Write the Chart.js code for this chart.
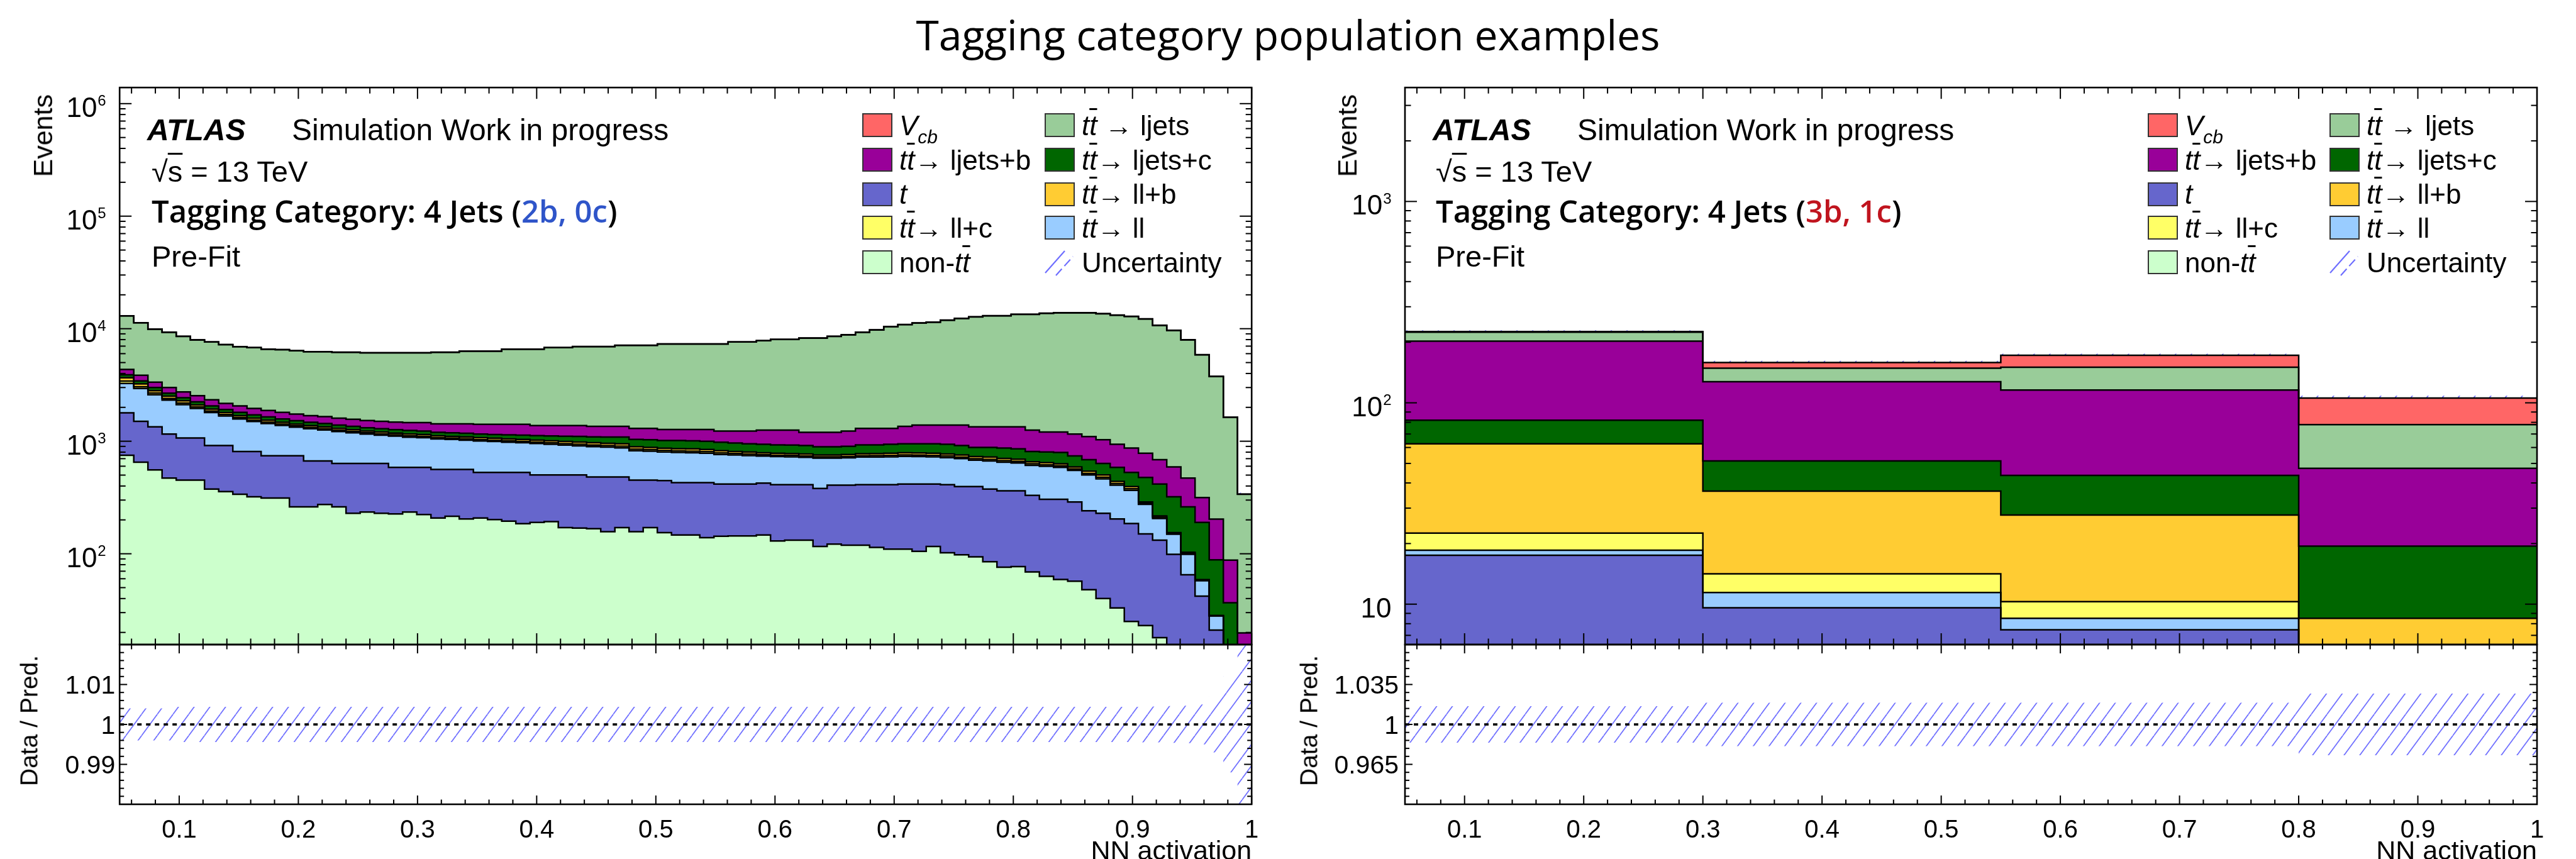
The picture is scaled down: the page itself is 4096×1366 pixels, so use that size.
<!DOCTYPE html>
<html>
<head>
<meta charset="utf-8">
<title>Tagging category population examples</title>
<script src="https://cdn.jsdelivr.net/npm/chart.js@4.4.1/dist/chart.umd.min.js"></script>
<style>
html,body{margin:0;padding:0;background:#fff;}
#page{position:relative;width:4096px;height:1366px;overflow:hidden;background:#fff;
  font-family:"Liberation Sans",Arial,Helvetica,sans-serif;color:#000;}
canvas{position:absolute;}
.txt{position:absolute;white-space:nowrap;line-height:1;}
.ov{text-decoration:overline;text-decoration-thickness:3px;}
.os{font-family:"Open Sans","Noto Sans",sans-serif;}
.box{position:absolute;width:44px;height:34px;border:2px solid #333;}
</style>
</head>
<body>
<div id="page">
  <div class="txt os" style="left:0;width:4096px;text-align:center;top:21px;font-size:66px;">Tagging category population examples</div>
  <canvas id="leftMain"></canvas>
  <canvas id="leftRatio"></canvas>
  <canvas id="rightMain"></canvas>
  <canvas id="rightRatio"></canvas>
</div>
<script>
// ================= DATA =================
// stack order, bottom -> top
const seriesNames  = ['non-tt̄', 't', 'tt̄ → ll', 'tt̄ → ll+c', 'tt̄ → ll+b', 'tt̄ → ljets+c', 'tt̄ → ljets+b', 'tt̄ → ljets', 'Vcb'];
const seriesColors = ['#ccffcc', '#6666cc', '#99ccff', '#ffff66', '#ffcc33', '#006600', '#990099', '#99cc99', '#ff6666'];

// x axis (NN activation)
const xTickValues = [0.1, 0.2, 0.3, 0.4, 0.5, 0.6, 0.7, 0.8, 0.9, 1.0];
const xTickText   = ['0.1', '0.2', '0.3', '0.4', '0.5', '0.6', '0.7', '0.8', '0.9', '1'];

// ---------- Left panel: 4 Jets (2b, 0c), 80 uniform bins 0.05 .. 1 ----------
const leftBinStart = 0.05, leftBinWidth = 0.011875, leftBinCount = 80;
const leftNonTT = [750,651,556,471,451,451,376,357,338,321,
  313,313,261,261,274,261,229,235,229,226,
  235,223,208,215,204,208,201,195,185,190,
  193,171,169,167,157,171,157,171,154,147,
  147,139,143,144,144,147,130,132,132,116,
  122,119,119,114,110,110,105,116,102,98,
  94,85,76,77,69,63,59,57,48,40,
  33,25,23,18,8,5,3,1,0.5,0.2];
const leftT = [1038,853,785,687,619,619,539,558,473,490,
  429,429,481,407,394,373,405,399,405,360,
  351,363,354,347,358,320,327,333,343,311,
  308,330,332,314,324,310,294,280,293,281,
  281,289,274,273,273,277,281,279,279,264,
  285,288,292,297,301,307,312,301,309,298,
  302,291,286,285,261,242,246,232,193,189,
  171,161,127,114,91,60,39,20,3,1];
const leftTTll = [1475,1435,1251,1164,1043,884,882,764,766,685,
  693,641,592,624,591,586,555,524,500,524,
  501,490,486,475,459,477,467,451,441,453,
  438,423,409,415,406,392,373,364,356,366,
  362,354,345,337,329,314,319,315,308,328,
  301,305,312,312,315,317,313,309,304,304,
  283,292,289,279,281,294,281,262,260,234,
  203,180,125,74,50,34,15.5,7,2,1];
const leftTTllc = [160,115,90,76,70,60,55,47,44,42,
  40,36,34,34,33,32,31,30,29,29,
  28,28,27,27,29,28,28,28,27,27,
  28,28,30,29,29,30,27,27,26,26,
  26,26,25,23,23,21,21,21,20,18,
  18,20,20,22,22,22,22,22,22,22,
  20,22,21,21,19,18,18,16,16,15,
  13,12,6,5,2,2,0.6,0.1,0.1,0.05];
const leftTTllb = [238,175,136,114,104,88,82,71,67,64,
  61,54,52,50,49,47,46,45,44,43,
  43,42,41,41,43,43,42,41,41,40,
  43,43,44,44,43,45,40,40,39,39,
  39,38,37,34,34,31,31,31,31,28,
  28,30,31,33,34,34,34,34,33,32,
  31,33,32,31,28,27,27,25,25,23,
  20,18,8,6,3,2,0.8,0.2,0.1,0.05];
const leftTTljc = [237,210,183,163,147,137,125,116,118,113,
  108,104,100,97,94,92,89,86,85,84,
  87,87,85,84,83,82,81,90,95,100,
  105,112,118,125,132,140,148,150,148,157,
  155,154,155,153,145,149,147,146,145,138,
  138,139,155,151,157,158,162,166,169,161,
  152,159,165,162,153,159,163,149,144,133,
  146,132,187,200,167,158,131,60,31,3];
const leftTTljb = [453,418,349,326,312,299,275,257,253,239,
  230,229,221,215,218,211,213,209,212,215,
  220,232,226,238,251,255,267,275,281,255,
  261,269,274,261,264,267,260,267,256,256,
  262,272,254,269,285,314,324,329,286,309,
  309,332,370,370,360,407,443,443,452,476,
  459,459,472,486,442,404,413,418,413,398,
  353,341,306,269,271,210,126,115,51,14.5];
const leftTTlj = [8649,7423,6544,6293,5801,5405,5283,5060,4874,4836,
  4705,4704,4634,4555,4590,4576,4610,4585,4609,4632,
  4648,4648,4751,4751,4883,4897,4897,5166,5166,5203,
  5414,5414,5557,5578,5578,5762,5818,5818,6038,6038,
  6038,6038,6077,6384,6384,6570,6773,6773,7039,7039,
  7346,7587,7995,8442,9129,9517,9829,10009,10494,10939,
  11379,11659,11659,12066,12154,12481,12626,12674,12734,12514,
  12254,11984,11418,10016,9049,7472,5549,3554,1539,318];
const leftVcb = [4,4,3,3,3,3,3,3,3,3,
  3,3,3,3,3,3,3,4,4,4,
  4,4,4,4,5,5,5,5,5,6,
  6,6,6,7,7,7,8,8,8,9,
  9,10,10,11,11,12,13,13,14,15,
  16,17,19,20,22,24,26,28,30,32,
  34,36,38,40,42,44,45,46,46,46,
  45,44,42,38,34,28,20,12,5,1];
// relative uncertainty of the prediction (ratio band half-width)
const leftUnc = [0.0040,0.0040,0.0040,0.0040,0.0044,0.0044,0.0044,0.0044,0.0044,0.0044,
  0.0044,0.0044,0.0044,0.0044,0.0044,0.0044,0.0044,0.0044,0.0044,0.0044,
  0.0044,0.0044,0.0044,0.0044,0.0044,0.0044,0.0044,0.0044,0.0044,0.0044,
  0.0044,0.0044,0.0044,0.0044,0.0044,0.0044,0.0044,0.0044,0.0044,0.0044,
  0.0044,0.0044,0.0044,0.0044,0.0044,0.0044,0.0044,0.0044,0.0044,0.0044,
  0.0044,0.0044,0.0044,0.0044,0.0044,0.0044,0.0044,0.0044,0.0044,0.0044,
  0.0044,0.0044,0.0044,0.0044,0.0044,0.0044,0.0044,0.0044,0.0044,0.0044,
  0.0044,0.0044,0.0045,0.0045,0.0046,0.0047,0.0050,0.0070,0.0120,0.0300];
const leftMainYLabels  = [[1e2,'2'],[1e3,'3'],[1e4,'4'],[1e5,'5'],[1e6,'6']];
const leftRatioYLabels = [[1.01,'1.01'],[1,'1'],[0.99,'0.99']];

// ---------- Right panel: 4 Jets (3b, 1c), 4 variable bins ----------
const rightBinEdges = [0.05, 0.3, 0.55, 0.8, 1.0];
const rightNonTT = [1.5, 1.2, 1.0, 0.5];
const rightT     = [16.0, 8.4, 6.46, 3.5];
const rightTTll  = [1.03, 1.82, 1.04, 0.5];
const rightTTllc = [4.0, 2.73, 1.8, 0.5];
const rightTTllb = [40.1, 22.25, 17.4, 3.5];
const rightTTljc = [19.3, 15.0, 15.9, 10.9];
const rightTTljb = [120.6, 75.9, 72.2, 27.9];
const rightTTlj  = [21.7, 21.3, 34.5, 30.6];
const rightVcb   = [1.5, 10.0, 21.8, 27.7];
const rightUnc   = [0.016, 0.019, 0.019, 0.027];
const rightMainYLabels  = [[10,''],[100,'2'],[1000,'3']];
const rightRatioYLabels = [[1.035,'1.035'],[1,'1'],[0.965,'0.965']];

// ================= GEOMETRY (page px) =================
const MAIN_TOP = 139.2, MAIN_BOTTOM = 1025, RATIO_BOTTOM = 1279;
const panels = [
  {plotL:190.2, plotR:1990.2, canL:0,    canR:2060},
  {plotL:2234,  plotR:4034,   canL:2100, canR:4096}
];
const MAIN_CAN_TOP = 100, MAIN_CAN_BOTTOM = 1040, RATIO_CAN_TOP = 1000, RATIO_CAN_BOTTOM = 1366;

// ================= HELPERS =================
const leftBinEdges = Array.from({length: leftBinCount + 1}, (_, i) => +(leftBinStart + i * leftBinWidth).toFixed(6));

function steps(edges, vals) {
  const p = vals.map((v, i) => ({x: edges[i], y: v}));
  p.push({x: edges[edges.length - 1], y: vals[vals.length - 1]});
  return p;
}
function makeHatch(ctx) {
  const P = 25, H = 34;
  const c = document.createElement('canvas'); c.width = P; c.height = H;
  const g = c.getContext('2d');
  g.strokeStyle = 'rgba(95,95,255,0.9)'; g.lineWidth = 1.7;
  for (let k = -1; k <= 1; k++) { g.beginPath(); g.moveTo(k * P, H); g.lineTo(k * P + P, 0); g.stroke(); }
  return ctx.createPattern(c, 'repeat');
}
function range(a, b, step, skipEvery) {
  const out = [];
  const n = Math.round((b - a) / step);
  for (let k = 0; k <= n; k++) { if (skipEvery && k % skipEvery === 0) continue; out.push(+(a + k * step).toFixed(6)); }
  return out;
}
function logMinors(min, max) {
  const out = [];
  for (let e = -1; e <= 7; e++) for (let m = 2; m <= 9; m++) { const v = m * Math.pow(10, e); if (v > min && v < max) out.push(v); }
  return out;
}
function logMajors(min, max) {
  const out = [];
  for (let e = -1; e <= 7; e++) { const v = Math.pow(10, e); if (v >= min && v <= max) out.push(v); }
  return out;
}
const xMinorTicks = range(0.06, 0.98, 0.02).filter(v => Math.abs(v * 10 - Math.round(v * 10)) > 1e-6);

// ROOT-like frame, inward ticks on all sides, tick labels
const rootAxes = {
  id: 'rootAxes',
  afterDatasetsDraw(chart, args, o) {
    const ctx = chart.ctx, a = chart.chartArea, xs = chart.scales.x, ys = chart.scales.y;
    ctx.save();
    ctx.strokeStyle = '#000'; ctx.fillStyle = '#000'; ctx.lineCap = 'butt';
    const seg = (x1, y1, x2, y2) => { ctx.beginPath(); ctx.moveTo(x1, y1); ctx.lineTo(x2, y2); ctx.stroke(); };
    ctx.lineWidth = 2;
    o.xMajor.forEach(v => { const p = xs.getPixelForValue(v); seg(p, a.bottom, p, a.bottom - o.xMajorLen); seg(p, a.top, p, a.top + o.xMajorLen); });
    o.xMinor.forEach(v => { const p = xs.getPixelForValue(v); seg(p, a.bottom, p, a.bottom - o.xMinorLen); seg(p, a.top, p, a.top + o.xMinorLen); });
    o.yMajor.forEach(v => { const p = ys.getPixelForValue(v); seg(a.left, p, a.left + o.yMajorLen, p); seg(a.right, p, a.right - o.yMajorLen, p); });
    o.yMinor.forEach(v => { const p = ys.getPixelForValue(v); seg(a.left, p, a.left + o.yMinorLen, p); seg(a.right, p, a.right - o.yMinorLen, p); });
    ctx.lineWidth = 2.6;
    ctx.strokeRect(a.left, a.top, a.right - a.left, a.bottom - a.top);
    // y labels
    ctx.textAlign = 'right'; ctx.textBaseline = 'alphabetic';
    if (o.logLabels) {
      o.logLabels.forEach(([v, e]) => {
        const p = ys.getPixelForValue(v);
        const xr = a.left - o.labelGap;
        ctx.font = '24px "Liberation Sans", Arial, sans-serif';
        const ew = e ? ctx.measureText(e).width + 1 : 0;
        if (e) ctx.fillText(e, xr, p + 3.5);
        ctx.font = '44px "Liberation Sans", Arial, sans-serif';
        ctx.fillText('10', xr - ew, p + 21);
      });
    }
    if (o.linLabels) {
      ctx.font = '41px "Liberation Sans", Arial, sans-serif';
      o.linLabels.forEach(([v, t]) => { const p = ys.getPixelForValue(v); ctx.fillText(t, a.left - o.labelGap, p + 14.8); });
    }
    if (o.xLabels) {
      ctx.textAlign = 'center';
      ctx.font = '40px "Liberation Sans", Arial, sans-serif';
      o.xLabels.forEach((v, i) => ctx.fillText(o.xText[i], xs.getPixelForValue(v), a.bottom + 53));
    }
    ctx.restore();
  }
};

function setCanvas(cv, L, T, R, B) {
  cv.width = Math.round(R - L); cv.height = Math.round(B - T);
  cv.style.left = L + 'px'; cv.style.top = T + 'px';
  cv.style.width = cv.width + 'px'; cv.style.height = cv.height + 'px';
}
function baseOptions(pad, yScale, axesOpts) {
  return {
    responsive: false, maintainAspectRatio: false, animation: false, devicePixelRatio: 1, events: [],
    layout: {padding: pad},
    scales: {
      x: {type: 'linear', min: 0.05, max: 1, display: false},
      y: Object.assign({display: false}, yScale)
    },
    plugins: {legend: {display: false}, tooltip: {enabled: false},
      filler: {drawTime: 'beforeDatasetsDraw', propagate: false}, rootAxes: axesOpts},
    elements: {point: {radius: 0, hoverRadius: 0}, line: {tension: 0, borderJoinStyle: 'miter', borderCapStyle: 'butt'}}
  };
}

function buildMain(id, pnl, edges, comps, unc, yMin, yMax, logLabels) {
  const cv = document.getElementById(id);
  setCanvas(cv, pnl.canL, MAIN_CAN_TOP, pnl.canR, MAIN_CAN_BOTTOM);
  const ctx = cv.getContext('2d');
  const hatch = makeHatch(ctx);
  const cum = [];
  let run = comps[0].map(() => 0);
  comps.forEach(c => { run = run.map((v, i) => v + c[i]); cum.push(run); });
  const datasets = cum.map((vals, k) => ({
    label: seriesNames[k], data: steps(edges, vals), stepped: true,
    borderColor: '#000', borderWidth: 2.5, backgroundColor: seriesColors[k],
    fill: k === 0 ? 'start' : '-1', pointRadius: 0
  }));
  const total = cum[cum.length - 1];
  datasets.push({label: 'unc-low', data: steps(edges, total.map((v, i) => v * (1 - unc[i]))), stepped: true,
    borderColor: 'rgba(0,0,0,0)', borderWidth: 1, fill: false, pointRadius: 0});
  datasets.push({label: 'Uncertainty', data: steps(edges, total.map((v, i) => v * (1 + unc[i]))), stepped: true,
    borderColor: 'rgba(0,0,0,0)', borderWidth: 1, backgroundColor: hatch, fill: '-1', pointRadius: 0});
  const pad = {left: pnl.plotL - pnl.canL, right: pnl.canR - pnl.plotR, top: MAIN_TOP - MAIN_CAN_TOP, bottom: MAIN_CAN_BOTTOM - MAIN_BOTTOM};
  new Chart(ctx, {
    type: 'line', data: {datasets},
    options: baseOptions(pad, {type: 'logarithmic', min: yMin, max: yMax}, {
      xMajor: xTickValues, xMinor: xMinorTicks, xMajorLen: 18, xMinorLen: 9.5,
      yMajor: logMajors(yMin, yMax), yMinor: logMinors(yMin, yMax), yMajorLen: 19, yMinorLen: 9.5,
      logLabels, labelGap: 21.5
    }),
    plugins: [rootAxes]
  });
}

function buildRatio(id, pnl, edges, unc, half, majStep, minStep, linLabels, gap) {
  const cv = document.getElementById(id);
  setCanvas(cv, pnl.canL, RATIO_CAN_TOP, pnl.canR, RATIO_CAN_BOTTOM);
  const ctx = cv.getContext('2d');
  const hatch = makeHatch(ctx);
  const datasets = [
    {label: 'unc-low', data: steps(edges, unc.map(u => 1 - u)), stepped: true, borderColor: 'rgba(0,0,0,0)', borderWidth: 1, fill: false, pointRadius: 0},
    {label: 'Uncertainty', data: steps(edges, unc.map(u => 1 + u)), stepped: true, borderColor: 'rgba(0,0,0,0)', borderWidth: 1, backgroundColor: hatch, fill: '-1', pointRadius: 0},
    {label: 'unity', data: [{x: edges[0], y: 1}, {x: edges[edges.length - 1], y: 1}], borderColor: '#000', borderWidth: 3.6, borderDash: [7, 7], fill: false, pointRadius: 0}
  ];
  const pad = {left: pnl.plotL - pnl.canL, right: pnl.canR - pnl.plotR, top: MAIN_BOTTOM - RATIO_CAN_TOP, bottom: RATIO_CAN_BOTTOM - RATIO_BOTTOM};
  const yMin = 1 - half, yMax = 1 + half;
  new Chart(ctx, {
    type: 'line', data: {datasets},
    options: baseOptions(pad, {type: 'linear', min: yMin, max: yMax}, {
      xMajor: xTickValues, xMinor: xMinorTicks, xMajorLen: 14, xMinorLen: 7.5,
      yMajor: range(yMin, yMax, majStep), yMinor: range(yMin, yMax, minStep, 5), yMajorLen: 12, yMinorLen: 7,
      linLabels, labelGap: gap, xLabels: xTickValues, xText: xTickText
    }),
    plugins: [rootAxes]
  });
}

// ================= CHARTS =================
buildMain('leftMain', panels[0], leftBinEdges,
  [leftNonTT, leftT, leftTTll, leftTTllc, leftTTllb, leftTTljc, leftTTljb, leftTTlj, leftVcb],
  leftUnc, 15.6, 1.39e6, leftMainYLabels);
buildRatio('leftRatio', panels[0], leftBinEdges, leftUnc, 0.02, 0.01, 0.002, leftRatioYLabels, 7);
buildMain('rightMain', panels[1], rightBinEdges,
  [rightNonTT, rightT, rightTTll, rightTTllc, rightTTllb, rightTTljc, rightTTljb, rightTTlj, rightVcb],
  rightUnc, 6.3, 3680, rightMainYLabels);
buildRatio('rightRatio', panels[1], rightBinEdges, rightUnc, 0.07, 0.035, 0.007, rightRatioYLabels, 10);

// ================= TEXT / LEGEND =================
const page = document.getElementById('page');
function addDiv(html, css, cls) {
  const d = document.createElement('div'); d.className = 'txt' + (cls ? ' ' + cls : '');
  d.innerHTML = html; Object.assign(d.style, css); page.appendChild(d); return d;
}
const LS = 0.488, OS = 0.531; // cap-centre factors
const TT = '<i>t</i><i class="ov">t</i>';
const legendLabels = [
  [0, 0, 8, '<i>V</i><sub style="font-size:0.68em;vertical-align:-0.42em"><i>cb</i></sub>'],
  [1, 0, 7, TT + ' &rarr; ljets'],
  [0, 1, 6, TT + '&rarr; ljets+b'],
  [1, 1, 5, TT + '&rarr; ljets+c'],
  [0, 2, 1, '<i>t</i>'],
  [1, 2, 4, TT + '&rarr; ll+b'],
  [0, 3, 3, TT + '&rarr; ll+c'],
  [1, 3, 2, TT + '&rarr; ll'],
  [0, 4, 0, 'non-' + TT],
  [1, 4, -1, 'Uncertainty']
];
const legendRows = [199, 254, 308.5, 362, 417];
const panelText = [
  {tag: '2b, 0c', tagColor: '#2f55c9', atlasX: 234, simX: 464, textX: 241, legX: [1371, 1661], evX: 68, dpX: 45.5},
  {tag: '3b, 1c', tagColor: '#c0141e', atlasX: 2278, simX: 2508, textX: 2283, legX: [3415, 3704], evX: 2142, dpX: 2080.5}
];
panelText.forEach((pt, idx) => {
  const pnl = panels[idx];
  addDiv('<b><i>ATLAS</i></b>', {left: pt.atlasX + 'px', top: (206.5 - LS * 48) + 'px', fontSize: '48px'});
  addDiv('Simulation Work in progress', {left: pt.simX + 'px', top: (206.5 - LS * 48) + 'px', fontSize: '48px'});
  addDiv('&radic;<span class="ov">s</span> = 13 TeV', {left: pt.textX + 'px', top: (271.5 - LS * 47) + 'px', fontSize: '47px'});
  addDiv('Tagging Category: 4 Jets (<span style="color:' + pt.tagColor + '">' + pt.tag + '</span>)',
    {left: pt.textX + 'px', top: (337.5 - OS * 49) + 'px', fontSize: '49px', fontWeight: '600'}, 'os');
  addDiv('Pre-Fit', {left: pt.textX + 'px', top: (406.5 - LS * 47) + 'px', fontSize: '47px'});
  // legend
  legendLabels.forEach(([col, row, si, html]) => {
    const bx = pt.legX[col], cy = legendRows[row];
    if (si >= 0) {
      const b = document.createElement('div'); b.className = 'box';
      b.style.left = bx + 'px'; b.style.top = (cy - 19) + 'px'; b.style.background = seriesColors[si];
      page.appendChild(b);
    } else {
      const s = document.createElementNS('http://www.w3.org/2000/svg', 'svg');
      s.setAttribute('width', '50'); s.setAttribute('height', '50');
      s.style.position = 'absolute'; s.style.left = bx + 'px'; s.style.top = (cy - 25) + 'px';
      s.innerHTML = '<line x1="1" y1="42" x2="32" y2="7" stroke="rgb(110,110,255)" stroke-width="2.2"/>' +
                    '<line x1="18" y1="46" x2="45" y2="16" stroke="rgb(110,110,255)" stroke-width="2.2" stroke-dasharray="14 6"/>';
      page.appendChild(s);
    }
    addDiv(html, {left: (bx + 59) + 'px', top: (cy - LS * 44) + 'px', fontSize: '44px'});
  });
  // axis titles
  addDiv('Events', {left: (pt.evX - LS * 43) + 'px', top: '150px', fontSize: '43px',
    transformOrigin: '0 0', transform: 'rotate(-90deg) translateX(-100%)'});
  addDiv('Data / Pred.', {left: pt.dpX + 'px', top: '1146px', fontSize: '39px',
    transform: 'translate(-50%,-50%) rotate(-90deg)'});
  addDiv('NN activation', {left: pnl.plotR + 'px', top: (1352 - LS * 43) + 'px', fontSize: '43px',
    transform: 'translateX(-100%)'});
});
</script>
</body>
</html>
